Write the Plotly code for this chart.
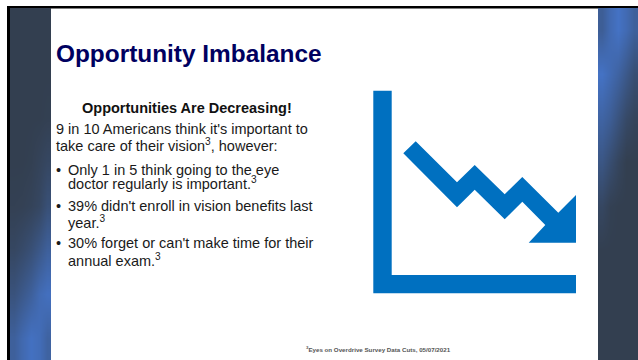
import plotly.graph_objects as go

WIDTH, HEIGHT = 638, 360

# Slide text
TITLE = "Opportunity Imbalance"
SUBTITLE = "Opportunities Are Decreasing!"
INTRO_LINES = ["9 in 10 Americans think it's important to",
               "take care of their vision<sup>3</sup>, however:"]
BULLET_LINES = ["Only 1 in 5 think going to the eye",
                "doctor regularly is important.<sup>3</sup>",
                "39% didn't enroll in vision benefits last",
                "year.<sup>3</sup>",
                "30% forget or can't make time for their",
                "annual exam.<sup>3</sup>"]
BULLET_STARTS = [True, False, True, False, True, False]
INTRO_ROWS = [129, 145]
BULLET_ROWS = [170, 183, 206, 221.5, 243, 259.5]
FOOTNOTE = "<sup>3</sup>Eyes on Overdrive Survey Data Cuts, 05/07/2021"

# Icon outlines
AXIS_X = [373.3, 391.7, 391.7, 576, 576, 373.3, 373.3]
AXIS_Y = [90.7, 90.7, 275, 275, 293.3, 293.3, 90.7]
ARROW_X = [403.3, 415.7, 457, 474.7, 504.7, 522.3, 558.3, 576, 576, 528.7,
           545.3, 522.3, 504.7, 474.7, 457, 403.3]
ARROW_Y = [153.3, 141.3, 182.3, 165, 194.3, 177, 212.7, 195, 242.7, 242.7,
           225, 201.7, 219.3, 189.7, 207.3, 153.3]

# Side panel shading, sampled on coarse grids (0 = slate, 1 = bright blue)
LEFT_X = [14.1, 22.3, 30.5, 38.7, 46.9]
RIGHT_X = [602, 610, 618, 626, 634]
PANEL_Y = [30, 74, 118, 162, 206, 250, 294, 338]
LEFT_SHADE = [[0, 0, 0, 0, 0],
              [0, 0, 0, 0, 0],
              [0, 0, 0, 0, 0.02],
              [0, 0, 0.02, 0.08, 0.15],
              [0.03, 0.04, 0.08, 0.15, 0.33],
              [0.15, 0.22, 0.33, 0.48, 0.65],
              [0.38, 0.5, 0.65, 0.85, 0.95],
              [0.65, 0.82, 0.97, 0.9, 0.7]]
RIGHT_SHADE = [[0.6, 0.85, 1, 0.85, 0.65],
               [1, 0.85, 0.7, 0.5, 0.3],
               [0.72, 0.6, 0.4, 0.2, 0.1],
               [0.45, 0.28, 0.12, 0, 0],
               [0.15, 0.03, 0, 0, 0],
               [0, 0, 0, 0, 0],
               [0, 0, 0, 0, 0],
               [0, 0, 0, 0, 0]]

SLATE = "#333f50"
BRIGHT = "#4472c4"
ICON_BLUE = "#0070c0"
NAVY = "#000060"
INK = "#1a1a1a"
SANS = "Liberation Sans, Arial, sans-serif"
BODY_SIZE = 14.5

fig = go.Figure()

for xs, shade in [(LEFT_X, LEFT_SHADE), (RIGHT_X, RIGHT_SHADE)]:
    fig.add_trace(go.Heatmap(x=xs, y=PANEL_Y, z=shade, zmin=0, zmax=1, zsmooth="best",
                             colorscale=[[0, SLATE], [1, BRIGHT]],
                             showscale=False, hoverinfo="skip"))

for xs, ys in [(AXIS_X, AXIS_Y), (ARROW_X, ARROW_Y)]:
    fig.add_trace(go.Scatter(x=xs, y=ys, mode="lines", fill="toself",
                             fillcolor=ICON_BLUE, line=dict(width=0),
                             hoverinfo="skip", showlegend=False))


def add_text(x, y, text, size, color=INK, anchor="left", bold=False):
    fig.add_annotation(x=x, y=y, text=f"<b>{text}</b>" if bold else text,
                       xref="x", yref="y", xanchor=anchor, yanchor="middle",
                       showarrow=False, align="left", borderpad=0,
                       font=dict(family=SANS, size=size, color=color))


add_text(55, 53.5, TITLE, 24.4, NAVY, bold=True)
add_text(187, 108, SUBTITLE, BODY_SIZE, "#111111", anchor="center", bold=True)

for line, y in zip(INTRO_LINES, INTRO_ROWS):
    add_text(55, y, line, BODY_SIZE)
for line, starts, y in zip(BULLET_LINES, BULLET_STARTS, BULLET_ROWS):
    if starts:
        add_text(55, y, "•", BODY_SIZE)
    add_text(67, y, line, BODY_SIZE)

add_text(305, 349, FOOTNOTE, 6.2, "#555555", bold=True)

fig.update_layout(
    width=WIDTH, height=HEIGHT, margin=dict(l=0, r=0, t=0, b=0),
    paper_bgcolor="white", plot_bgcolor="white", showlegend=False,
    xaxis=dict(range=[0, WIDTH], visible=False, fixedrange=True),
    yaxis=dict(range=[HEIGHT, 0], visible=False, fixedrange=True),
    shapes=[
        dict(type="rect", x0=7, x1=WIDTH, y0=6, y1=8.5, line_width=0, fillcolor="#000000", layer="below"),
        dict(type="rect", x0=7, x1=10, y0=6, y1=HEIGHT, line_width=0, fillcolor="#000000", layer="below"),
    ],
)

fig.write_html("out.html", config=dict(displayModeBar=False))
